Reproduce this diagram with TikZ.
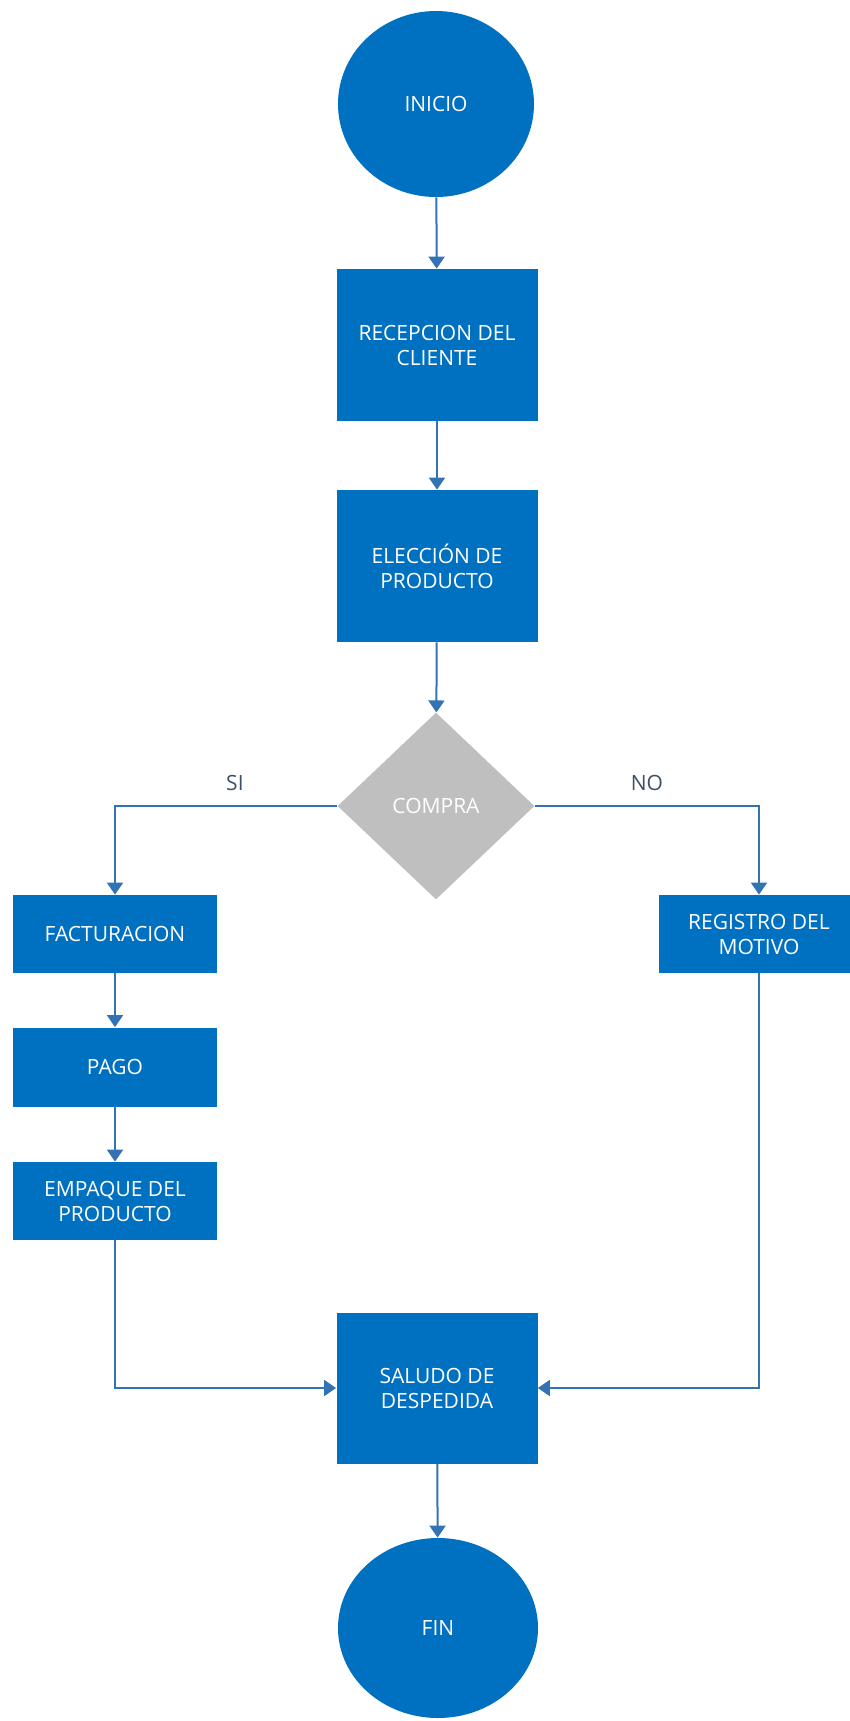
\documentclass[tikz,border=0pt]{standalone}
\usepackage{fontspec}
\setmainfont{Open Sans}
\usepackage{tikz}
\usetikzlibrary{arrows.meta,%
	shapes.geometric}
\definecolor{flowblue}{RGB}{0,112,192}
\definecolor{flowgray}{RGB}{191,191,191}
\definecolor{flowline}{RGB}{50,115,180}
\definecolor{flowlabel}{RGB}{64,80,100}

\begin{document}
\begin{tikzpicture}[x=0.5pt,y=-0.5pt,font=\fontsize{10.5}{12.5}\selectfont,
	proc node/.style={rectangle,fill=flowblue,text=white,align=center,inner sep=0pt,minimum width=100.5pt},
	end node/.style={ellipse,fill=flowblue,text=white,inner sep=0pt,minimum width=98pt,minimum height=93pt},
	dec node/.style={diamond,fill=flowgray,text=white,inner sep=0pt,minimum width=98.5pt,minimum height=93.5pt},
	flow/.style={draw=flowline,line width=1pt,-{Triangle[width=8pt,length=6pt]}},
	every edge/.style={flow}]
		\useasboundingbox (0,0) rectangle (850,1721);
		\node[end node] (1) at (436,104) {INICIO};
		\node[proc node,minimum height=76pt] (2) at (437,345) {RECEPCION DEL\\CLIENTE};
		\node[proc node,minimum height=76pt] (3) at (437,566) {ELECCIÓN DE\\PRODUCTO};
		\node[dec node] (4) at (436,806) {COMPRA};
		\node[proc node,minimum width=102pt,minimum height=39pt] (5) at (115,934) {FACTURACION};
		\node[proc node,minimum width=100pt,minimum height=39pt] (6) at (759,934) {REGISTRO DEL\\MOTIVO};
		\node[proc node,minimum width=102pt,minimum height=39.5pt] (7) at (115,1067) {PAGO};
		\node[proc node,minimum width=102pt,minimum height=39pt] (8) at (115,1201) {EMPAQUE DEL\\PRODUCTO};
		\node[proc node,minimum height=75.5pt] (9) at (437,1388) {SALUDO DE\\DESPEDIDA};
		\node[end node,minimum width=100pt,minimum height=90pt] (10) at (438,1628) {FIN};
		\path
		(1) edge (2)
		(2) edge (3)
		(3) edge (4)
		(5) edge (7)
		(7) edge (8)
		(9) edge (10);
		\draw[flow] (4.west) -| node[pos=0.23,above=7pt,inner sep=0pt,text=flowlabel] {SI} (5.north);
		\draw[flow] (4.east) -| node[pos=0.25,above=7pt,inner sep=0pt,text=flowlabel] {NO} (6.north);
		\draw[flow] (8.south) |- (9.west);
		\draw[flow] (6.south) |- (9.east);
		\end{tikzpicture}
\end{document}
